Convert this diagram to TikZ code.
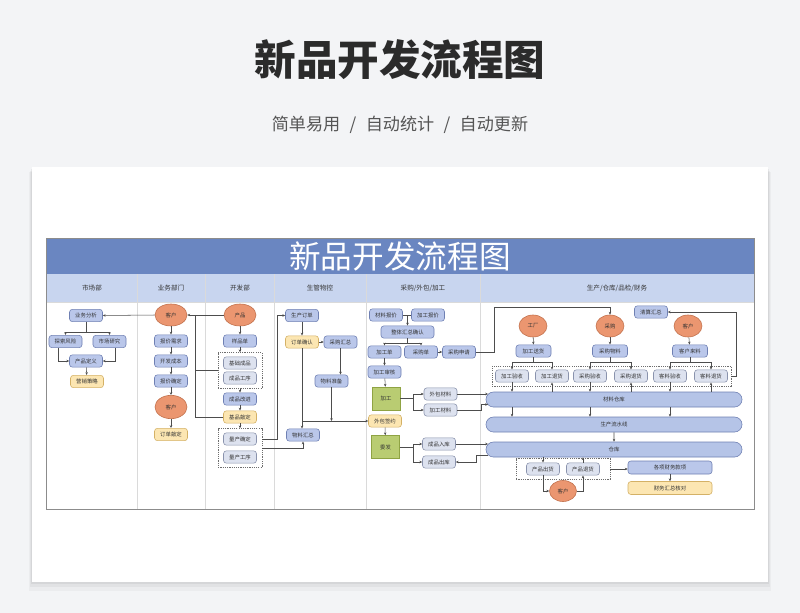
\documentclass[tikz,border=0pt]{standalone}
\usepackage{fontspec}
\setmainfont{Noto Sans CJK SC}
\newfontfamily\headfont{Noto Sans CJK SC Black}
\usetikzlibrary{arrows.meta, positioning, calc, shapes.geometric, shapes.misc, fit}

\definecolor{PageGray}{HTML}{F3F4F6}
\definecolor{TitleInk}{HTML}{2B2B2B}
\definecolor{SubInk}{HTML}{555555}
\definecolor{BandBlue}{HTML}{6A86C1}
\definecolor{HeadBlue}{HTML}{C8D5EF}
\definecolor{FrameGray}{HTML}{8C8C8C}
\definecolor{LaneLine}{HTML}{DADADA}
\definecolor{TextDark}{HTML}{333333}
\definecolor{BoxBlue}{HTML}{BAC7EA}
\definecolor{BoxLine}{HTML}{6F80B3}
\definecolor{PaleBox}{HTML}{DDE2EF}
\definecolor{PaleLine}{HTML}{8A93AD}
\definecolor{CreamBox}{HTML}{FCE6B2}
\definecolor{CreamLine}{HTML}{D4B166}
\definecolor{PeachFill}{HTML}{EB9670}
\definecolor{PeachLine}{HTML}{C2714C}
\definecolor{LimeFill}{HTML}{B9CC72}
\definecolor{LimeLine}{HTML}{8FA343}
\definecolor{CapFill}{HTML}{B5C4E7}
\definecolor{FlowLine}{HTML}{4D4D4D}
\definecolor{GroupLine}{HTML}{6E6E6E}

\tikzset{
  flow/.style={draw=FlowLine, line width=0.45pt, -{Stealth[length=2.4pt, width=2.1pt]}},
  link/.style={draw=FlowLine, line width=0.45pt},
  box/.style={draw=BoxLine, fill=BoxBlue, rounded corners=2.5pt, line width=0.5pt,
    minimum width=0.99cm, minimum height=0.37cm, inner sep=0pt,
    font=\fontsize{4.6}{5}\selectfont, text=TextDark},
  pale/.style={box, draw=PaleLine, fill=PaleBox},
  cream/.style={box, draw=CreamLine, fill=CreamBox},
  client/.style={ellipse, draw=PeachLine, fill=PeachFill, line width=0.5pt,
    minimum width=0.96cm, minimum height=0.66cm, inner sep=0pt,
    font=\fontsize{4.6}{5}\selectfont, text=TextDark},
  task/.style={draw=LimeLine, fill=LimeFill, line width=0.5pt,
    minimum width=0.84cm, minimum height=0.69cm, inner sep=0pt,
    font=\fontsize{4.6}{5}\selectfont, text=TextDark},
  store/.style={rounded rectangle, draw=BoxLine, fill=CapFill, line width=0.5pt,
    minimum width=7.68cm, minimum height=0.45cm, inner sep=0pt,
    font=\fontsize{4.6}{5}\selectfont, text=TextDark},
  group/.style={draw=GroupLine, line width=0.5pt, dash pattern=on 1pt off 0.9pt,
    inner xsep=0.15cm, inner ysep=0.12cm},
  lane/.style={font=\fontsize{5.6}{6}\selectfont, text=TextDark}
}

\begin{document}
\begin{tikzpicture}[x=0.03cm, y=-0.03cm]
  \useasboundingbox (0,0) rectangle (800,613);
  \fill[PageGray] (0,0) rectangle (800,613);

  % Heading
  \node[font=\headfont\fontsize{35.5}{40}\selectfont, text=TitleInk] (Title) at (400,60) {新品开发流程图};
  \node[font=\fontsize{14.6}{16}\selectfont, text=SubInk] (Sub) at (400,125)
    {简单易用\hspace{0.55em}/\hspace{0.55em}自动统计\hspace{0.55em}/\hspace{0.55em}自动更新};

  % Card
  \fill[black, opacity=0.03] (29,172) rectangle (771,591);
  \fill[black, opacity=0.04] (30,171) rectangle (770,587);
  \fill[black, opacity=0.05] (31,169) rectangle (769,584);
  \fill[white] (32,167) rectangle (768,582);

  % Band and lanes
  \fill[BandBlue] (46,238) rectangle (754,274);
  \node[font=\fontsize{27}{30}\selectfont, text=white] (Band) at (400,256) {新品开发流程图};
  \fill[HeadBlue] (46,274) rectangle (754,302);
  \draw[LaneLine, line width=0.4pt] (46,302) -- (754,302);
  \foreach \x in {137.5,205.5,274.5,366,480}
    \draw[LaneLine, line width=0.5pt] (\x,274) -- (\x,509);
  \draw[FrameGray, line width=0.8pt] (46,238) rectangle (754,509);
  \foreach \x/\t in {92/市场部, 171/业务部门, 240/开发部, 320/生管物控, 423/{采购/外包/加工}, 617/{生产/仓库/品检/财务}}
    \node[lane] (lane\x) at (\x,288) {\t};

  % Market
  \node[box] (YWFX) at (86,315.5) {业务分析};
  \node[box] (TSFX) at (65.5,341.5) {探索风险};
  \node[box] (SCYJ) at (109.5,341.5) {市场研究};
  \node[box] (CPDY) at (86,361) {产品定义};
  \node[cream] (YXCL) at (87,381.5) {营销策略};

  % Business
  \node[client] (KH1) at (171,315) {客户};
  \node[box] (BJXQ) at (171,341) {报价需求};
  \node[box] (KFCB) at (171,361) {开发成本};
  \node[box] (BJQD) at (171,381) {报价确定};
  \node[client, minimum height=0.7cm] (KH2) at (171,407) {客户};
  \node[cream] (DDQD) at (171,434.5) {订单敲定};

  % Development
  \node[client] (CP) at (240,315) {产品};
  \node[box] (YPD) at (240,341) {样品单};
  \node[pale] (JCCP) at (240,363) {基础成品};
  \node[pale] (CPGX) at (240,378) {成品工序};
  \node[group, fit=(JCCP)(CPGX)] (G1) {};
  \node[box] (CPGJ) at (240,399) {成品改进};
  \node[cream] (JPQD) at (240,417) {基品敲定};
  \node[pale] (LCQD) at (240,439) {量产确定};
  \node[pale] (LCGX) at (240,457) {量产工序};
  \node[group, fit=(LCQD)(LCGX)] (G2) {};

  % PMC
  \node[box] (SCDD) at (302,315.5) {生产订单};
  \node[cream] (DDQR) at (302,342) {订单确认};
  \node[box] (CGHZ) at (340.5,342) {采购汇总};
  \node[box] (WLZB) at (331.5,381) {物料准备};
  \node[box] (WLHZ) at (303,435) {物料汇总};
  \coordinate (J1) at (302,421);

  % Purchase / outsourcing
  \node[box] (CLBJ) at (386,315) {材料报价};
  \node[box] (JGBJ) at (428,315) {加工报价};
  \node[box, minimum width=1.59cm] (ZTHZ) at (407.5,332) {整体汇总确认};
  \node[box] (JGD) at (384.5,352) {加工单};
  \node[box] (CGD) at (421,352) {采购单};
  \node[box] (CGSQ) at (459,352) {采购申请};
  \node[box] (JGSH) at (384.5,372) {加工审核};
  \node[task] (JG) at (386,398.5) {加工};
  \node[pale] (WBCL) at (440.5,394) {外包材料};
  \node[pale] (JGCL) at (440.5,410) {加工材料};
  \node[cream] (WBQY) at (385,421) {外包签约};
  \node[task] (WF) at (385.5,447) {委发};
  \node[pale] (CPRK) at (439,444) {成品入库};
  \node[pale] (CPCK) at (439,462) {成品出库};

  % Production / stock / finance
  \node[box] (QSHZ) at (651,312) {清算汇总};
  \node[client, minimum width=0.84cm] (GC) at (533,326) {工厂};
  \node[client, minimum width=0.84cm] (CG) at (610,326) {采购};
  \node[client, minimum width=0.84cm] (KH3) at (688,326) {客户};
  \node[box, minimum width=1.05cm] (JGSo) at (533.5,351) {加工送货};
  \node[box, minimum width=1.05cm] (CGWL) at (610,351) {采购物料};
  \node[box, minimum width=1.05cm] (KHLL) at (690,351) {客户来料};
  \node[pale] (JGYS) at (512,376) {加工验收};
  \node[pale] (JGTH) at (552,376) {加工退货};
  \node[pale] (CGYS) at (590,376) {采购验收};
  \node[pale] (CGTH) at (631,376) {采购退货};
  \node[pale] (KLYS) at (670,376) {客料验收};
  \node[pale] (KLTH) at (711,376) {客料退货};
  \node[group, inner xsep=0.09cm, inner ysep=0.1cm, fit=(JGYS)(KLTH)] (G3) {};
  \node[store] (CLCK) at (614,399.5) {材料仓库};
  \node[store] (SCLS) at (614,424.5) {生产流水线};
  \node[store] (CK) at (614,449.5) {仓库};
  \node[pale] (CPCH) at (543,469) {产品出货};
  \node[pale] (CPTH) at (583,469) {产品退货};
  \node[group, inner xsep=0.3cm, inner ysep=0.12cm, fit=(CPCH)(CPTH)] (G4) {};
  \node[client, minimum width=0.81cm, minimum height=0.63cm] (KH4) at (563,491) {客户};
  \node[box, minimum width=2.52cm, minimum height=0.39cm] (GXCW) at (670,467.5) {各项财务款项};
  \node[cream, minimum width=2.52cm, minimum height=0.39cm] (CWHZ) at (670,488) {财务汇总核对};

  % Arrows: market
  \draw[flow] (KH1.west) -- (YWFX.east);
  \draw[flow] (YWFX.south) -- ++(0,10.5) -| (TSFX.north);
  \draw[flow] (YWFX.south) -- ++(0,10.5) -| (SCYJ.north);
  \draw[flow] ($(TSFX.south)+(-7,0)$) |- (CPDY.west);
  \draw[flow] ($(SCYJ.south)+(6,0)$) |- (CPDY.east);
  \draw[flow] (CPDY) -- (YXCL);

  % Arrows: business
  \draw[flow] (KH1) -- (BJXQ);
  \draw[flow] (BJXQ) -- (KFCB);
  \draw[flow] (KFCB) -- (BJQD);
  \draw[flow] (BJQD) -- (KH2);
  \draw[flow] (KH2) -- (DDQD);

  % Arrows: development
  \draw[flow] (CP.west) -- (KH1.east);
  \draw[link] (G1.west) -| (195,315);
  \draw[link] (JPQD.west) -| (195,315);
  \draw[flow] (CP) -- (YPD);
  \draw[flow] (YPD) -- (G1);
  \draw[flow] (G1) -- (CPGJ);
  \draw[flow] (CPGJ) -- (JPQD);
  \draw[flow] (JPQD) -- (G2);
  \draw[flow] (G2.east |- LCQD.east) -- ++(15,0) |- (SCDD.west);
  \draw[flow] (G2.east) -| (WLHZ.south);

  % Arrows: PMC
  \draw[flow] (SCDD) -- (DDQR);
  \draw[flow] (DDQR) -- (CGHZ);
  \draw[flow] (CGHZ.south) -- (CGHZ.south |- WLZB.north);
  \draw[flow] (DDQR.south) -- (DDQR.south |- WLHZ.north);
  \draw[flow] (WLZB.south) -- (WLZB.south |- J1);
  \draw[flow] (J1) -- (WBQY.west);

  % Arrows: purchase
  \draw[link] (CLBJ.east) -- (JGBJ.west);
  \draw[flow] (CLBJ.east -| ZTHZ.north) -- (ZTHZ.north);
  \draw[flow] (ZTHZ.south) -- ++(0,5) -| (JGD.north);
  \draw[flow] (ZTHZ.south) -- ++(0,5) -| (CGD.north);
  \draw[flow] (CGD) -- (CGSQ);
  \draw[flow] (CGSQ.east) -- ++(18,0) |- ($(CG.north)+(0,-7)$) -- (CG.north);
  \draw[flow] (JGD) -- (JGSH);
  \draw[flow] (JGSH) -- (JG);
  \draw[flow] (JG.east) -- ++(13,0) |- (WBCL.west);
  \draw[flow] (JG.east) -- ++(13,0) |- (JGCL.west);
  \draw[flow] (WBQY) -- (WF);
  \draw[flow] (WF.east) -- ++(13,0) |- (CPRK.west);
  \draw[flow] (WF.east) -- ++(13,0) |- (CPCK.west);
  \draw[flow] (WBCL.east) -- ([xshift=2pt]WBCL.east -| CLCK.west);
  \draw[flow] (JGCL.east) -| ($(CLCK.west)+(-4,5)$) -- ($(CLCK.west)+(2.4,5)$);
  \draw[flow] (CPRK.east) -- ([xshift=2pt]CPRK.east -| CK.west);
  \draw[flow] ($(CK.west)+(2.4,5.5)$) -- ++(-12,0) |- (CPCK.east);

  % Arrows: production
  \draw[flow] (GC) -- (JGSo);
  \draw[flow] (CG) -- (CGWL);
  \draw[flow] (KH3) -- (KHLL);
  \draw[flow] (JGSo.south) -- ++(0,5) -| (JGYS.north);
  \draw[flow] (JGSo.south) -- ++(0,5) -| (JGTH.north);
  \draw[flow] (CGWL.south) -- ++(0,5) -| (CGYS.north);
  \draw[flow] (CGWL.south) -- ++(0,5) -| (CGTH.north);
  \draw[flow] (KHLL.south) -- ++(0,5) -| (KLYS.north);
  \draw[flow] (KHLL.south) -- ++(0,5) -| (KLTH.north);
  \draw[flow] (G3.east) -- ++(5,0) |- (QSHZ.east);
  \foreach \n in {JGYS,CGYS,KLYS} {
    \draw[flow] (\n.south) -- (\n.south |- CLCK.north);
    \draw[flow] (\n |- CLCK.south) -- (\n |- SCLS.north);
  }
  \foreach \n in {JGTH,CGTH,KLTH}
    \draw[flow] (\n.south |- CLCK.north) -- (\n.south);
  \draw[flow] (SCLS) -- (CK);
  \draw[flow] (CPCH.north |- CK.south) -- (CPCH.north);
  \draw[flow] (CPTH.north) -- (CPTH.north |- CK.south);
  \draw[flow] (CPCH.south) |- (KH4.west);
  \draw[flow] (KH4.east) -| (CPTH.south);
  \draw[flow] (G4.east) -- (G4.east -| GXCW.west);
  \draw[flow] (GXCW) -- (CWHZ);
\end{tikzpicture}
\end{document}
